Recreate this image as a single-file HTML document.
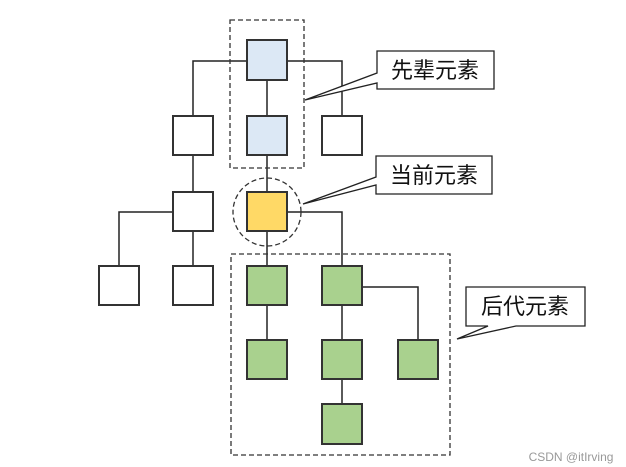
<!DOCTYPE html>
<html><head><meta charset="utf-8"><style>
html,body{margin:0;padding:0;background:#fff;width:626px;height:467px;overflow:hidden}
</style></head><body>
<svg width="626" height="467" viewBox="0 0 626 467" xmlns="http://www.w3.org/2000/svg">
<g stroke="#222" stroke-width="1.5" fill="none">
<polyline points="193,116 193,61 342,61 342,116"/>
<line x1="267" y1="80" x2="267" y2="116"/>
<line x1="267" y1="155" x2="267" y2="192"/>
<line x1="193" y1="155" x2="193" y2="192"/>
<polyline points="173,212 119,212 119,266"/>
<line x1="193" y1="231" x2="193" y2="266"/>
<line x1="267" y1="231" x2="267" y2="266"/>
<polyline points="287,212 342,212 342,266"/>
<line x1="267" y1="305" x2="267" y2="339"/>
<line x1="342" y1="305" x2="342" y2="339"/>
<line x1="342" y1="379" x2="342" y2="404"/>
<polyline points="362,287 418,287 418,339"/>
</g>
<g stroke="#333" stroke-width="2">
<rect x="247" y="40" width="40" height="40" fill="#dce8f5"/>
<rect x="247" y="116" width="40" height="39" fill="#dce8f5"/>
<rect x="173" y="116" width="40" height="39" fill="#fff"/>
<rect x="322" y="116" width="40" height="39" fill="#fff"/>
<rect x="173" y="192" width="40" height="39" fill="#fff"/>
<rect x="247" y="192" width="40" height="39" fill="#ffd966"/>
<rect x="99" y="266" width="40" height="39" fill="#fff"/>
<rect x="173" y="266" width="40" height="39" fill="#fff"/>
<rect x="247" y="266" width="40" height="39" fill="#a9d18e"/>
<rect x="322" y="266" width="40" height="39" fill="#a9d18e"/>
<rect x="247" y="340" width="40" height="39" fill="#a9d18e"/>
<rect x="322" y="340" width="40" height="39" fill="#a9d18e"/>
<rect x="398" y="340" width="40" height="39" fill="#a9d18e"/>
<rect x="322" y="404" width="40" height="40" fill="#a9d18e"/>
</g>
<g stroke="#333" stroke-width="1.3" fill="none" stroke-dasharray="5,3">
<rect x="230" y="20" width="74" height="148"/>
<circle cx="267" cy="212" r="34"/>
<rect x="231" y="254" width="219" height="201"/>
</g>
<g stroke="#222" stroke-width="1.3" fill="#fff">
<path d="M377,51 H494 V89 H377 V83 L305,100 L377,73 Z"/>
<path d="M376,156 H492 V194 H376 V185 L303,204 L376,177 Z"/>
<path d="M466,287 H585 V326 H516 L457,339 L488,326 H466 Z"/>
</g>
<g font-family="Liberation Sans, Noto Sans CJK SC, sans-serif" font-size="22" fill="#111" text-anchor="middle">
<text x="435" y="78">先辈元素</text>
<text x="434" y="183">当前元素</text>
<text x="525" y="314">后代元素</text>
</g>
<text x="571" y="461" font-family="Liberation Sans, sans-serif" font-size="12" fill="#999" text-anchor="middle">CSDN @itIrving</text>
</svg>
</body></html>
